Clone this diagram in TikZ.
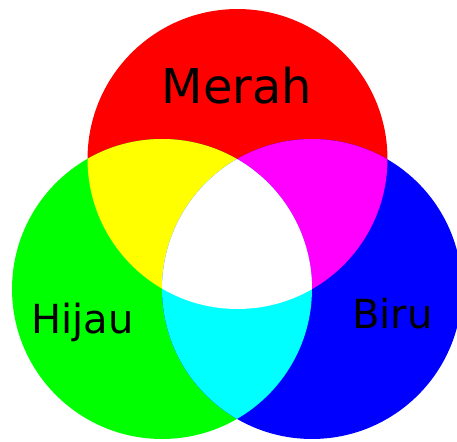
\documentclass[tikz,border=0pt]{standalone}
\usepackage{fontspec}
\setmainfont{DejaVu Sans}
\usepackage{xcolor}
\definecolor{rgbred}{HTML}{FF0000}
\definecolor{rgbgreen}{HTML}{00FF00}
\definecolor{rgbblue}{HTML}{0000FF}
\definecolor{rgbyellow}{HTML}{FFFF00}
\definecolor{rgbmagenta}{HTML}{FF00FF}
\definecolor{rgbcyan}{HTML}{00FFFF}
\tikzset{
  biglabel/.style={anchor=base,inner sep=0pt,font=\fontsize{27.3pt}{30pt}\selectfont},
  smalllabel/.style={anchor=base,inner sep=0pt,font=\fontsize{22.8pt}{25pt}\selectfont}
}
\begin{document}
\begin{tikzpicture}[x=0.02cm,y=0.02cm]
  \useasboundingbox (0,0) rectangle (457,441);
  \coordinate (merahC) at (237.5,282);
  \coordinate (hijauC) at (162,152);
  \coordinate (biruC) at (312,152);
  % primary circles
  \fill[rgbred] (merahC) circle[radius=3cm];
  \fill[rgbgreen] (hijauC) circle[radius=3cm];
  \fill[rgbblue] (biruC) circle[radius=3cm];
  % pairwise overlaps
  \begin{scope}
    \clip (merahC) circle[radius=3cm];
    \fill[rgbyellow] (hijauC) circle[radius=3cm];
    \fill[rgbmagenta] (biruC) circle[radius=3cm];
  \end{scope}
  \begin{scope}
    \clip (hijauC) circle[radius=3cm];
    \fill[rgbcyan] (biruC) circle[radius=3cm];
  \end{scope}
  % centre
  \begin{scope}
    \clip (merahC) circle[radius=3cm];
    \clip (hijauC) circle[radius=3cm];
    \fill[white] (biruC) circle[radius=3cm];
  \end{scope}
  \node[biglabel] (merah) at (237,337.7) {Merah};
  \node[smalllabel] (hijau) at (82.5,107.7) {Hijau};
  \node[smalllabel] (biru) at (392.5,112.7) {Biru};
\end{tikzpicture}
\end{document}
